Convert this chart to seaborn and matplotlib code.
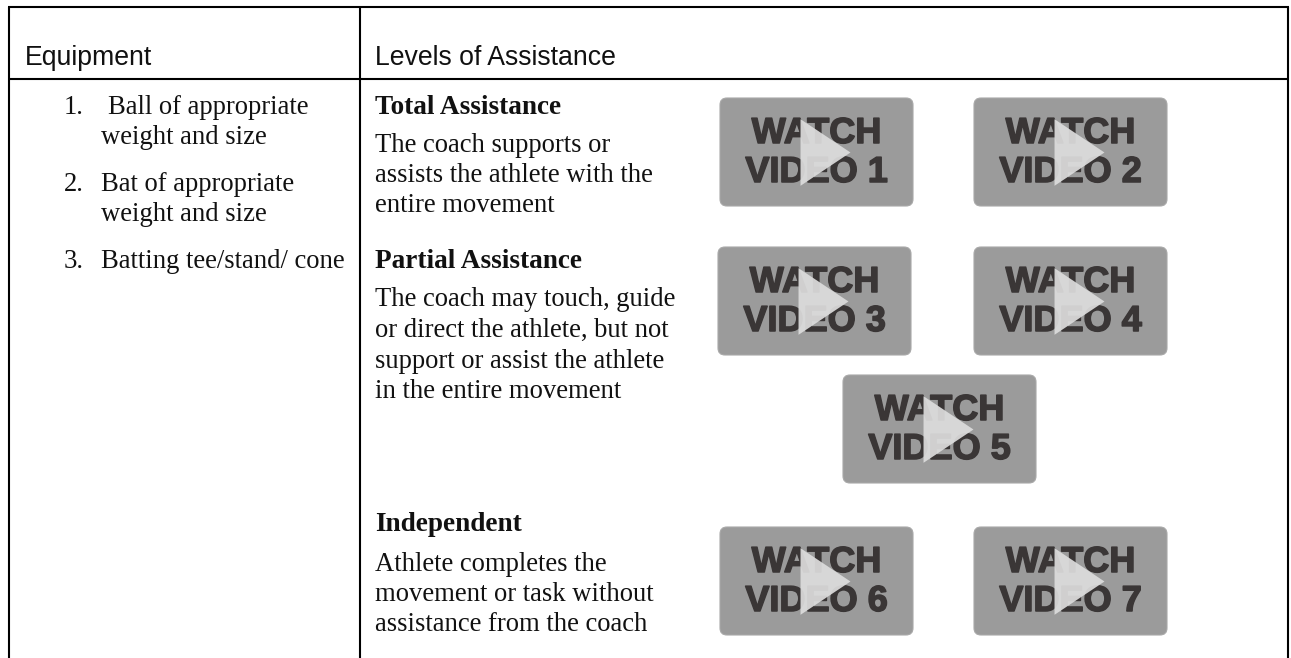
import pandas as pd
import matplotlib.pyplot as plt
import matplotlib.patheffects as pe
from matplotlib.patches import FancyBboxPatch
import seaborn as sns

# table text
headers = ["Equipment", "Levels of Assistance"]
item_numbers = ["1.", "2.", "3."]
items = ["Ball of appropriate", "weight and size", "Bat of appropriate", "weight and size", "Batting tee/stand/ cone"]
level_titles = ["Total Assistance", "Partial Assistance", "Independent"]
level_lines = [
    "The coach supports or", "assists the athlete with the", "entire movement",
    "The coach may touch, guide", "or direct the athlete, but not",
    "support or assist the athlete", "in the entire movement",
    "Athlete completes the", "movement or task without", "assistance from the coach",
]
video_numbers = [1, 2, 3, 4, 5, 6, 7]

# layout, in pixels of the 1291x658 picture
header_y = 65
number_pos = [(64, 114), (64, 191), (64, 268)]
item_pos = [(108, 114), (101, 144), (101, 191), (101, 221), (101, 268)]
title_y = [114, 268, 531]
line_y = [152, 182, 212, 306, 337, 368, 398, 571, 601, 631]
button_left = [720, 974, 718, 974, 843, 720, 974]
button_top = [98, 98, 247, 247, 375, 527, 527]
button_w, button_h = 193, 108

sns.set_theme(style="white")
plt.rcParams["font.family"] = ["Liberation Serif", "DejaVu Sans"]

fig, ax = plt.subplots(figsize=(12.91, 6.58), dpi=100)
fig.subplots_adjust(0, 0, 1, 1)
ax.set_xlim(0, 1291)
ax.set_ylim(658, 0)
ax.axis("off")

#--table rules
for x in [9, 360, 1288]:
    ax.plot([x, x], [7, 658], color="black", lw=1.5, solid_capstyle="butt")
for y in [7, 79]:
    ax.plot([8, 1289], [y, y], color="black", lw=1.5, solid_capstyle="butt")

#--left and right column text
body = dict(fontsize=19.2, color="#111111", va="baseline", family="Liberation Serif")
head = dict(fontsize=19.2, color="#111111", va="baseline", family="Liberation Sans")
ax.text(25, header_y, headers[0], **head)
ax.text(375, header_y, headers[1], **head)
for n, (x, y) in zip(item_numbers, number_pos):
    ax.text(x, y, n, **body)
for t, (x, y) in zip(items, item_pos):
    ax.text(x, y, t, **body)
for t, y in zip(level_titles, title_y):
    ax.text(375, y, t, fontweight="bold", fontsize=19.6, color="#111111", va="baseline", family="Liberation Serif")
for t, y in zip(level_lines, line_y):
    ax.text(375, y, t, **body)

#--video buttons
buttons = pd.DataFrame({"n": video_numbers, "left": button_left, "top": button_top})
buttons["cx"] = buttons["left"] + button_w / 2
buttons["cy"] = buttons["top"] + button_h / 2
buttons["play_x"] = buttons["cx"] + 8

halo = [pe.withStroke(linewidth=1.1, foreground="#3a3636")]
for _, b in buttons.iterrows():
    ax.add_patch(FancyBboxPatch((b["left"] + 5, b["top"] + 5), button_w - 10, button_h - 10,
                                boxstyle="round,pad=5,rounding_size=7",
                                facecolor="#9b9b9b", edgecolor="#a8a8a8", lw=0.8, zorder=2))
    ax.text(b["cx"], b["cy"] - 9, "WATCH", ha="center", va="baseline", fontsize=26, fontweight="bold",
            color="#3a3636", family="Liberation Sans", path_effects=halo, zorder=3)
    ax.text(b["cx"], b["cy"] + 30, "VIDEO %d" % b["n"], ha="center", va="baseline", fontsize=26, fontweight="bold",
            color="#3a3636", family="Liberation Sans", path_effects=halo, zorder=3)

#--play triangles on top of the buttons
play = [(-0.75, -1), (0.75, 0), (-0.75, 1), (-0.75, -1)]
sns.scatterplot(data=buttons, x="play_x", y="cy", marker=play, s=2300, color="#dcdcdc",
                alpha=0.93, linewidth=0, ax=ax, zorder=4, legend=False)
ax.axis("off")

plt.savefig("out.png", dpi=100)
